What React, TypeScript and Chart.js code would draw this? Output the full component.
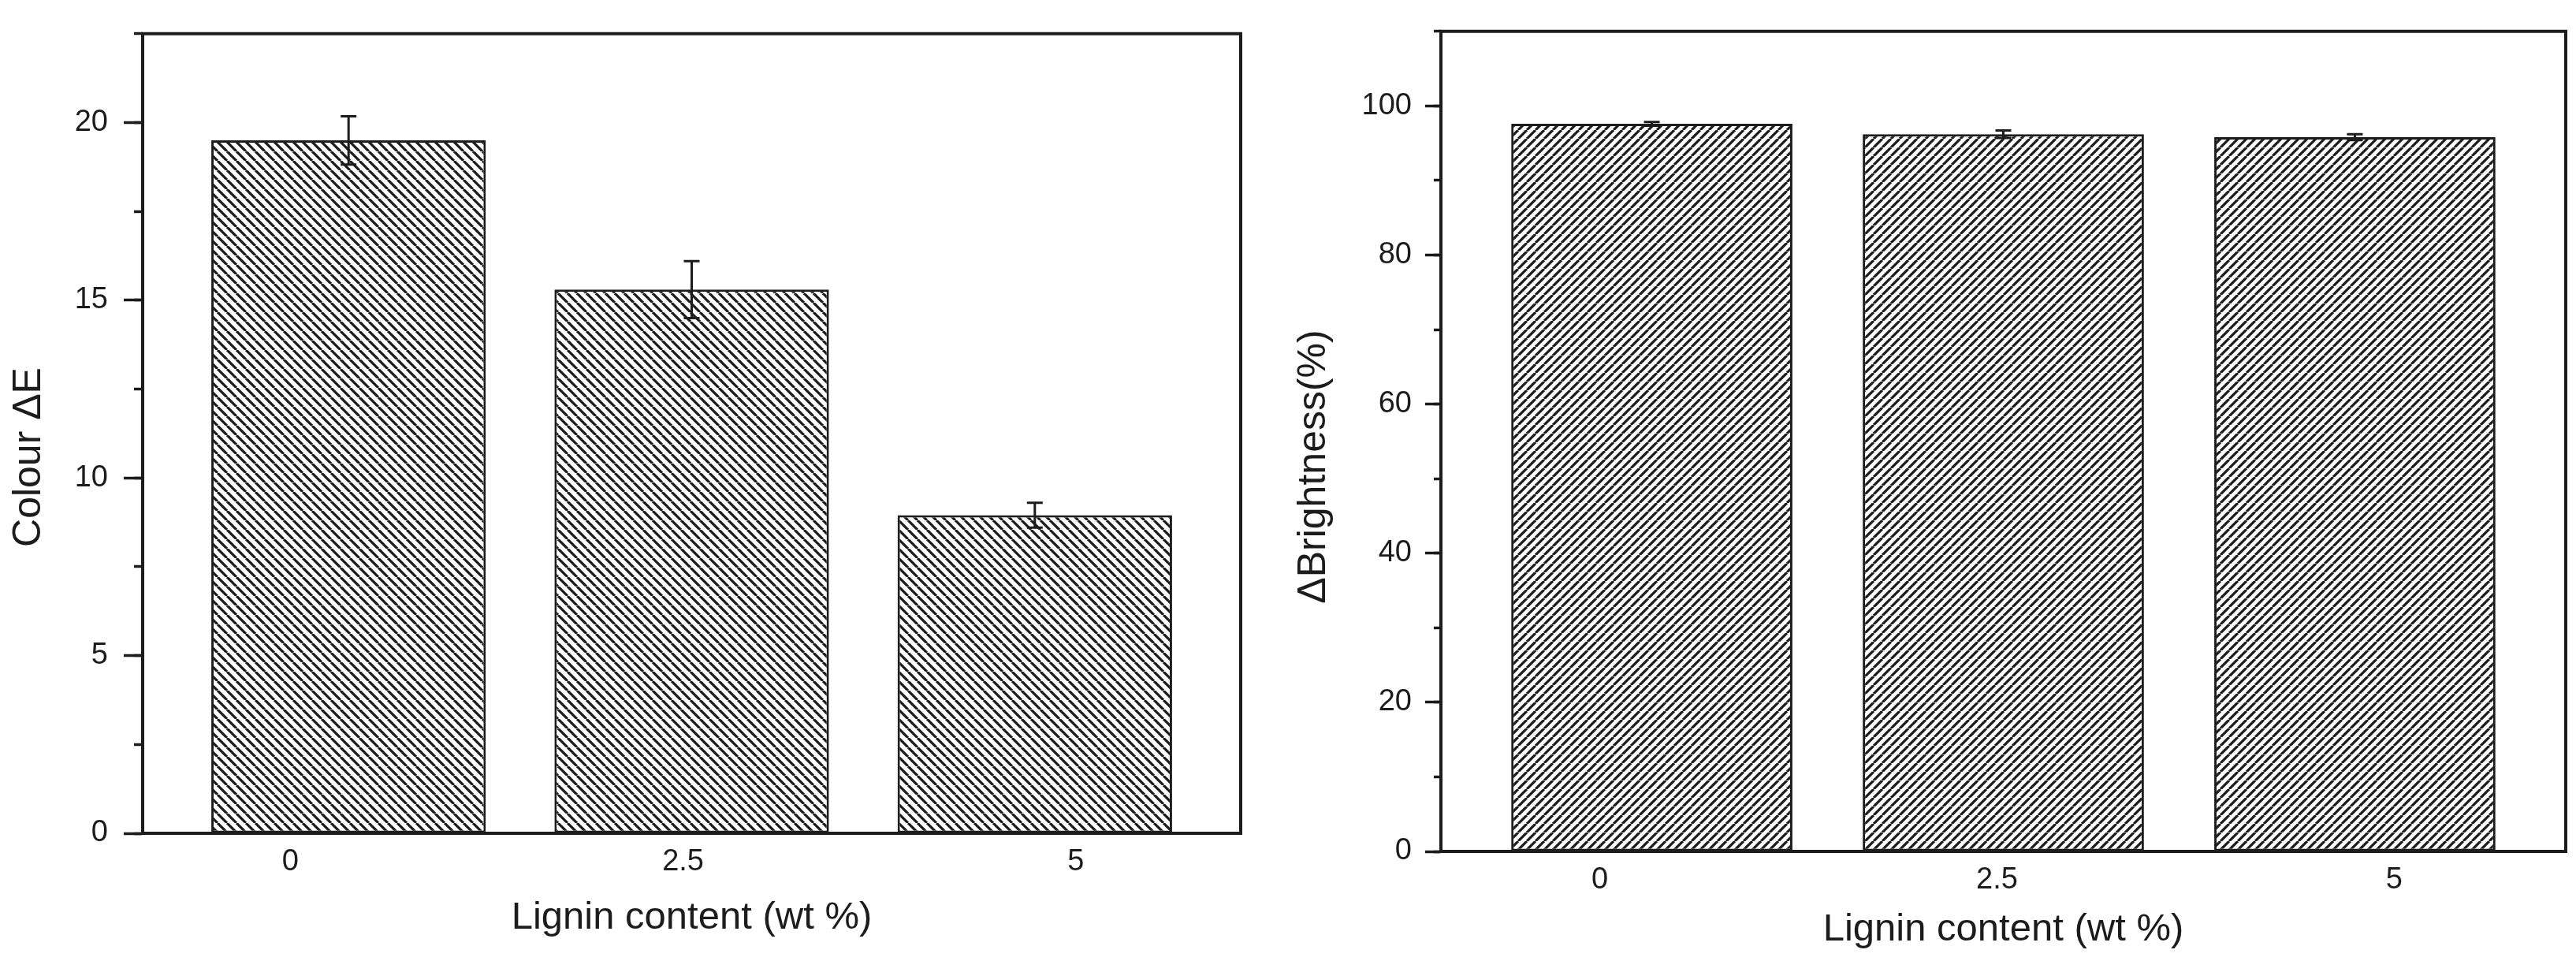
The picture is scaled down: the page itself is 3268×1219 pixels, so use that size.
import React, { useEffect, useRef } from "react";
import { Chart, registerables } from "chart.js";

Chart.register(...registerables);

// ---------------- data ----------------
const categories = ["0", "2.5", "5"]; // lignin content (wt %)
const xLabelValues = [0, 2.5, 5];
const colourDeltaE = [19.5, 15.3, 8.95];
const colourDeltaEError = [0.68, 0.8, 0.35];
const brightness = [97.6, 96.2, 95.8];
const brightnessError = [0.25, 0.5, 0.4];

const leftYMax = 22.5;
const leftYMajorStep = 5;
const leftYMinorStep = 2.5;
const rightYMax = 110;
const rightYMajorStep = 20;
const rightYMinorStep = 10;

const xTitle = "Lignin content (wt %)";
const leftYTitle = "Colour \u0394E";
const rightYTitle = "\u0394Brightness(%)";

// ---------------- style ----------------
const INK = "#1c1c1c";
const FONT = "'Liberation Sans', Arial, Helvetica, sans-serif";
Chart.defaults.font.family = FONT;
Chart.defaults.color = INK;

function makeHatch(
  ctx: CanvasRenderingContext2D,
  period: number,
  lw: number,
  dir: "back" | "fwd"
) {
  const tile = document.createElement("canvas");
  tile.width = period;
  tile.height = period;
  const g = tile.getContext("2d")!;
  g.fillStyle = "#ffffff";
  g.fillRect(0, 0, period, period);
  g.strokeStyle = INK;
  g.lineWidth = lw;
  g.beginPath();
  for (let k = -1; k <= 1; k++) {
    if (dir === "back") {
      g.moveTo(k * period, 0);
      g.lineTo((k + 1) * period, period);
    } else {
      g.moveTo(k * period, period);
      g.lineTo((k + 1) * period, 0);
    }
  }
  g.stroke();
  return ctx.createPattern(tile, "repeat");
}

const errorBarPlugin = {
  id: "errorBars",
  afterDatasetsDraw(chart: any, _args: any, opts: any) {
    const errs: number[] = opts.errors;
    if (!errs) return;
    const meta = chart.getDatasetMeta(0);
    const ys = chart.scales.y;
    const vals = chart.data.datasets[0].data as any[];
    const ctx = chart.ctx as CanvasRenderingContext2D;
    ctx.save();
    ctx.strokeStyle = INK;
    ctx.lineWidth = opts.lineWidth;
    meta.data.forEach((bar: any, i: number) => {
      const v = vals[i].y;
      const e = errs[i];
      const top = ys.getPixelForValue(v + e);
      const bot = ys.getPixelForValue(v - e);
      const x = bar.x;
      const hw = opts.capHalfWidth;
      ctx.beginPath();
      ctx.moveTo(x, top);
      ctx.lineTo(x, bot);
      ctx.moveTo(x - hw, top);
      ctx.lineTo(x + hw, top);
      ctx.moveTo(x - hw, bot);
      ctx.lineTo(x + hw, bot);
      ctx.stroke();
    });
    ctx.restore();
  },
};

const framePlugin = {
  id: "frame",
  afterDraw(chart: any, _args: any, opts: any) {
    const { left, right, top, bottom } = chart.chartArea;
    const ctx = chart.ctx as CanvasRenderingContext2D;
    ctx.save();
    ctx.strokeStyle = INK;
    ctx.lineWidth = opts.lineWidth;
    ctx.lineCap = "square";
    ctx.beginPath();
    ctx.moveTo(left, top);
    ctx.lineTo(right, top);
    ctx.lineTo(right, bottom);
    ctx.stroke();
    ctx.restore();
  },
};

const sideTitlePlugin = {
  id: "sideTitle",
  afterDraw(chart: any, _args: any, opts: any) {
    const ctx = chart.ctx as CanvasRenderingContext2D;
    ctx.save();
    ctx.translate(opts.x, opts.y);
    ctx.rotate(-Math.PI / 2);
    ctx.font = `${opts.size}px ${FONT}`;
    ctx.fillStyle = INK;
    ctx.textAlign = "center";
    ctx.textBaseline = "middle";
    ctx.fillText(opts.text, 0, 0);
    ctx.restore();
  },
};

type PanelProps = {
  left: number;
  width: number;
  height: number;
  values: number[];
  errors: number[];
  yMax: number;
  yStep: number;
  yMinorStep: number;
  yTitle: string;
  hatchDir: "back" | "fwd";
  hatchPeriod: number;
  area: { left: number; right: number; top: number; bottom: number };
  xRange: [number, number];
  tickLen: number;
  minorLen: number;
  tickPad: number;
  yTitlePos: { x: number; y: number };
  xTitlePadBottom: number;
};

function BarPanel(p: PanelProps) {
  const ref = useRef<HTMLCanvasElement>(null);
  useEffect(() => {
    const canvas = ref.current!;
    const ctx = canvas.getContext("2d")!;
    const pattern = makeHatch(ctx, p.hatchPeriod, 3.2, p.hatchDir);
    const chart = new Chart(canvas, {
      type: "bar",
      data: {
        datasets: [
          {
            data: p.values.map((y, i) => ({ x: i, y })),
            backgroundColor: pattern as any,
            borderColor: INK,
            borderWidth: 3,
            borderSkipped: false,
            barPercentage: 0.8,
            categoryPercentage: 1,
          } as any,
        ],
      },
      options: {
        responsive: false,
        animation: false,
        devicePixelRatio: 1,
        layout: {
          padding: {
            left: 0,
            top: p.area.top,
            right: p.width - p.area.right,
            bottom: 0,
          },
        },
        plugins: {
          legend: { display: false },
          tooltip: { enabled: false },
          errorBars: { errors: p.errors, lineWidth: 3, capHalfWidth: 10 },
          frame: { lineWidth: 4 },
          sideTitle: { text: p.yTitle, x: p.yTitlePos.x, y: p.yTitlePos.y, size: 50 },
        } as any,
        scales: {
          x: {
            type: "linear",
            display: false,
            offset: false,
            min: -0.6,
            max: categories.length - 0.4,
            afterBuildTicks: (s: any) => {
              s.ticks = categories.map((_c, i) => ({ value: i }));
            },
          } as any,
          x2: {
            type: "linear",
            position: "bottom",
            offset: false,
            min: p.xRange[0],
            max: p.xRange[1],
            afterBuildTicks: (s: any) => {
              s.ticks = xLabelValues.map((value) => ({ value }));
            },
            afterFit: (s: any) => {
              s.height = p.height - p.area.bottom;
            },
            grid: { display: false, drawTicks: false, offset: false },
            border: { display: true, color: INK, width: 4 },
            ticks: {
              padding: 14,
              color: INK,
              font: { size: 38 },
              autoSkip: false,
              maxRotation: 0,
              callback: (_v: any, i: number) => categories[i],
            },
            title: {
              display: true,
              text: xTitle,
              color: INK,
              font: { size: 49 },
              padding: { top: 0, bottom: p.xTitlePadBottom },
            },
          } as any,
          y: {
            type: "linear",
            position: "left",
            weight: 1,
            min: 0,
            max: p.yMax,
            afterFit: (s: any) => {
              s.width = p.area.left;
            },
            ticks: {
              stepSize: p.yStep,
              includeBounds: false,
              padding: p.tickPad,
              color: INK,
              font: { size: 38 },
            },
            grid: {
              drawOnChartArea: false,
              drawTicks: true,
              tickLength: p.tickLen,
              tickWidth: 3.5,
              tickColor: INK,
              color: INK,
            },
            border: { display: true, color: INK, width: 4 },
          } as any,
          y2: {
            type: "linear",
            position: "left",
            weight: 0,
            min: 0,
            max: p.yMax,
            afterFit: (s: any) => {
              s.width = 0;
            },
            ticks: { display: false, stepSize: p.yMinorStep },
            grid: {
              drawOnChartArea: false,
              drawTicks: true,
              tickLength: p.minorLen,
              tickWidth: 3.5,
              tickColor: INK,
              color: INK,
            },
            border: { display: false },
          } as any,
        },
      },
      plugins: [errorBarPlugin, framePlugin, sideTitlePlugin] as any,
    });
    return () => chart.destroy();
  }, []);
  return (
    <canvas
      ref={ref}
      width={p.width}
      height={p.height}
      style={{
        position: "absolute",
        left: p.left,
        top: 0,
        width: p.width,
        height: p.height,
      }}
    />
  );
}

export default function App() {
  return (
    <div
      style={{
        position: "fixed",
        left: 0,
        top: 0,
        width: 3268,
        height: 1219,
        background: "#ffffff",
        overflow: "hidden",
      }}
    >
      <BarPanel
        left={0}
        width={1640}
        height={1219}
        values={colourDeltaE}
        errors={colourDeltaEError}
        yMax={leftYMax}
        yStep={leftYMajorStep}
        yMinorStep={leftYMinorStep}
        yTitle={leftYTitle}
        hatchDir="back"
        hatchPeriod={12}
        area={{ left: 181, right: 1574, top: 31, bottom: 1057 }}
        xRange={[-0.94, 6.05]}
        tickLen={24}
        minorLen={11}
        tickPad={20}
        yTitlePos={{ x: 37, y: 580 }}
        xTitlePadBottom={25}
      />
      <BarPanel
        left={1640}
        width={1628}
        height={1219}
        values={brightness}
        errors={brightnessError}
        yMax={rightYMax}
        yStep={rightYMajorStep}
        yMinorStep={rightYMinorStep}
        yTitle={rightYTitle}
        hatchDir="fwd"
        hatchPeriod={11}
        area={{ left: 188, right: 1615, top: 31, bottom: 1080 }}
        xRange={[-1.0, 6.08]}
        tickLen={20}
        minorLen={9}
        tickPad={17}
        yTitlePos={{ x: 27, y: 592 }}
        xTitlePadBottom={10}
      />
    </div>
  );
}
